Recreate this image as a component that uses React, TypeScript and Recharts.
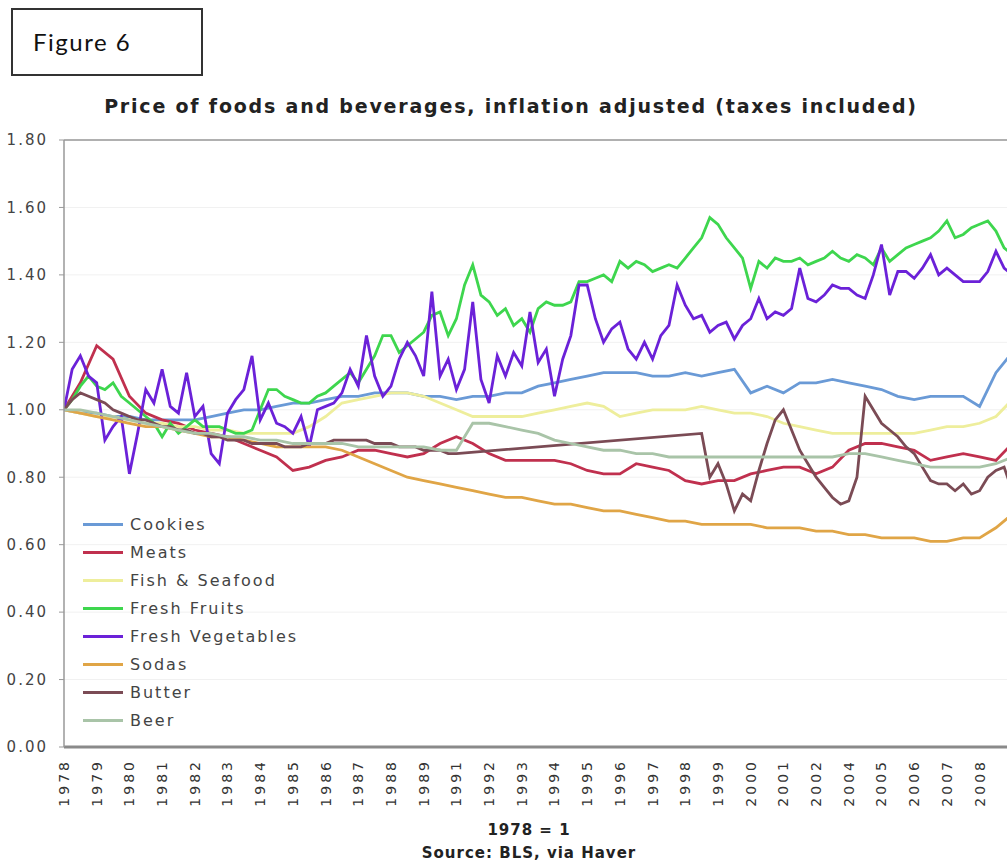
import { LineChart, Line, XAxis, YAxis, CartesianGrid, ReferenceLine } from 'recharts';

// year labels as printed under the axis (1990 and 2003 are not labelled)
const yearLabels = [
  '1978', '1979', '1980', '1981', '1982', '1983', '1984', '1985', '1986', '1987',
  '1988', '1989', '1991', '1992', '1993', '1994', '1995', '1996', '1997', '1998',
  '1999', '2000', '2001', '2002', '2004', '2005', '2006', '2007', '2008',
];
const yTicks = [0, 0.2, 0.4, 0.6, 0.8, 1, 1.2, 1.4, 1.6, 1.8];

// half-year readings (index unit = one labelled year)
const cookies = [
  1.0, 0.99, 0.99, 0.98, 0.98, 0.97, 0.97, 0.97, 0.97, 0.98,
  0.99, 1.0, 1.0, 1.01, 1.02, 1.02, 1.03, 1.04, 1.04, 1.05,
  1.05, 1.05, 1.04, 1.04, 1.03, 1.04, 1.04, 1.05, 1.05, 1.07,
  1.08, 1.09, 1.1, 1.11, 1.11, 1.11, 1.1, 1.1, 1.11, 1.1,
  1.11, 1.12, 1.05, 1.07, 1.05, 1.08, 1.08, 1.09, 1.08, 1.07,
  1.06, 1.04, 1.03, 1.04, 1.04, 1.04, 1.01, 1.11, 1.17,
];
const meats = [
  1.0, 1.08, 1.19, 1.15, 1.04, 0.99, 0.97, 0.96, 0.94, 0.93,
  0.92, 0.9, 0.88, 0.86, 0.82, 0.83, 0.85, 0.86, 0.88, 0.88,
  0.87, 0.86, 0.87, 0.9, 0.92, 0.9, 0.87, 0.85, 0.85, 0.85,
  0.85, 0.84, 0.82, 0.81, 0.81, 0.84, 0.83, 0.82, 0.79, 0.78,
  0.79, 0.79, 0.81, 0.82, 0.83, 0.83, 0.81, 0.83, 0.88, 0.9,
  0.9, 0.89, 0.88, 0.85, 0.86, 0.87, 0.86, 0.85, 0.9,
];
const fish = [
  1.0, 0.99, 0.98, 0.98, 0.97, 0.96, 0.96, 0.95, 0.95, 0.94,
  0.94, 0.93, 0.93, 0.93, 0.93, 0.95, 0.98, 1.02, 1.03, 1.04,
  1.05, 1.05, 1.04, 1.02, 1.0, 0.98, 0.98, 0.98, 0.98, 0.99,
  1.0, 1.01, 1.02, 1.01, 0.98, 0.99, 1.0, 1.0, 1.0, 1.01,
  1.0, 0.99, 0.99, 0.98, 0.96, 0.95, 0.94, 0.93, 0.93, 0.93,
  0.93, 0.93, 0.93, 0.94, 0.95, 0.95, 0.96, 0.98, 1.03,
];
const sodas = [
  1.0, 0.99, 0.98, 0.97, 0.96, 0.95, 0.95, 0.94, 0.93, 0.92,
  0.92, 0.91, 0.9, 0.89, 0.89, 0.89, 0.89, 0.88, 0.86, 0.84,
  0.82, 0.8, 0.79, 0.78, 0.77, 0.76, 0.75, 0.74, 0.74, 0.73,
  0.72, 0.72, 0.71, 0.7, 0.7, 0.69, 0.68, 0.67, 0.67, 0.66,
  0.66, 0.66, 0.66, 0.65, 0.65, 0.65, 0.64, 0.64, 0.63, 0.63,
  0.62, 0.62, 0.62, 0.61, 0.61, 0.62, 0.62, 0.65, 0.69,
];
const beer = [
  1.0, 1.0, 0.99, 0.98, 0.97, 0.96, 0.95, 0.94, 0.93, 0.93,
  0.92, 0.92, 0.91, 0.91, 0.9, 0.9, 0.9, 0.9, 0.89, 0.89,
  0.89, 0.89, 0.89, 0.88, 0.88, 0.96, 0.96, 0.95, 0.94, 0.93,
  0.91, 0.9, 0.89, 0.88, 0.88, 0.87, 0.87, 0.86, 0.86, 0.86,
  0.86, 0.86, 0.86, 0.86, 0.86, 0.86, 0.86, 0.86, 0.87, 0.87,
  0.86, 0.85, 0.84, 0.83, 0.83, 0.83, 0.83, 0.84, 0.86,
];

// quarterly readings for the jumpy series
const fruits = [
  1.0, 1.03, 1.07, 1.1, 1.07, 1.06, 1.08, 1.04, 1.02, 1.0,
  0.98, 0.96, 0.92, 0.96, 0.93, 0.95, 0.97, 0.95, 0.95, 0.95,
  0.94, 0.93, 0.93, 0.94, 1.0, 1.06, 1.06, 1.04, 1.03, 1.02,
  1.02, 1.04, 1.05, 1.07, 1.09, 1.11, 1.08, 1.12, 1.16, 1.22,
  1.22, 1.17, 1.19, 1.21, 1.23, 1.28, 1.29, 1.22, 1.27, 1.37,
  1.43, 1.34, 1.32, 1.28, 1.3, 1.25, 1.27, 1.23, 1.3, 1.32,
  1.31, 1.31, 1.32, 1.38, 1.38, 1.39, 1.4, 1.38, 1.44, 1.42,
  1.44, 1.43, 1.41, 1.42, 1.43, 1.42, 1.45, 1.48, 1.51, 1.57,
  1.55, 1.51, 1.48, 1.45, 1.36, 1.44, 1.42, 1.45, 1.44, 1.44,
  1.45, 1.43, 1.44, 1.45, 1.47, 1.45, 1.44, 1.46, 1.45, 1.43,
  1.48, 1.44, 1.46, 1.48, 1.49, 1.5, 1.51, 1.53, 1.56, 1.51,
  1.52, 1.54, 1.55, 1.56, 1.53, 1.48, 1.46,
];
const vegetables = [
  1.0, 1.12, 1.16, 1.1, 1.08, 0.91, 0.95, 0.98, 0.81, 0.93,
  1.06, 1.02, 1.12, 1.01, 0.99, 1.11, 0.98, 1.01, 0.87, 0.84,
  0.99, 1.03, 1.06, 1.16, 0.97, 1.02, 0.96, 0.95, 0.93, 0.98,
  0.89, 1.0, 1.01, 1.02, 1.05, 1.12, 1.07, 1.22, 1.1, 1.04,
  1.07, 1.15, 1.2, 1.16, 1.1, 1.35, 1.1, 1.15, 1.06, 1.12,
  1.32, 1.09, 1.02, 1.16, 1.1, 1.17, 1.13, 1.29, 1.14, 1.18,
  1.04, 1.15, 1.22, 1.37, 1.37, 1.27, 1.2, 1.24, 1.26, 1.18,
  1.15, 1.2, 1.15, 1.22, 1.25, 1.37, 1.31, 1.27, 1.28, 1.23,
  1.25, 1.26, 1.21, 1.25, 1.27, 1.33, 1.27, 1.29, 1.28, 1.3,
  1.42, 1.33, 1.32, 1.34, 1.37, 1.36, 1.36, 1.34, 1.33, 1.4,
  1.49, 1.34, 1.41, 1.41, 1.39, 1.42, 1.46, 1.4, 1.42, 1.4,
  1.38, 1.38, 1.38, 1.41, 1.47, 1.42, 1.4,
];
// butter has a gap 1991-1998 that the original joins with a straight line
const butter = [
  1.0, 1.03, 1.05, 1.04, 1.03, 1.02, 1.0, 0.99, 0.98, 0.97,
  0.97, 0.96, 0.95, 0.95, 0.94, 0.94, 0.93, 0.93, 0.92, 0.92,
  0.91, 0.91, 0.91, 0.9, 0.9, 0.9, 0.9, 0.89, 0.89, 0.89,
  0.9, 0.9, 0.9, 0.91, 0.91, 0.91, 0.91, 0.91, 0.9, 0.9,
  0.9, 0.89, 0.89, 0.89, 0.88, 0.88, 0.88, 0.87, 0.87, null,
  null, null, null, null, null, null, null, null, null, null,
  null, null, null, null, null, null, null, null, null, null,
  null, null, null, null, null, null, null, null, 0.93, 0.8,
  0.84, 0.78, 0.7, 0.75, 0.73, 0.82, 0.9, 0.97, 1.0, 0.94,
  0.88, 0.84, 0.8, 0.77, 0.74, 0.72, 0.73, 0.8, 1.04, 1.0,
  0.96, 0.94, 0.92, 0.89, 0.87, 0.83, 0.79, 0.78, 0.78, 0.76,
  0.78, 0.75, 0.76, 0.8, 0.82, 0.83, 0.76,
];

const SERIES = [
  { name: 'Cookies', color: '#6a9ad6', values: cookies, step: 0.5 },
  { name: 'Meats', color: '#c0304e', values: meats, step: 0.5 },
  { name: 'Fish & Seafood', color: '#eeee9c', values: fish, step: 0.5 },
  { name: 'Fresh Fruits', color: '#3ed64e', values: fruits, step: 0.25 },
  { name: 'Fresh Vegetables', color: '#6b21d8', values: vegetables, step: 0.25 },
  { name: 'Sodas', color: '#e0a546', values: sodas, step: 0.5 },
  { name: 'Butter', color: '#7b4b55', values: butter, step: 0.25 },
  { name: 'Beer', color: '#a9c4a8', values: beer, step: 0.5 },
];

const toPoints = (values, step) => values.map((v, j) => ({ x: j * step, v }));

const font = 'DejaVu Sans, Verdana, sans-serif';

const YearTick = ({ x, y, payload }) => (
  <g transform={`translate(${x},${y})`}>
    <text
      transform="rotate(-90)"
      x={0}
      y={0}
      dy="0.35em"
      textAnchor="end"
      fill="#333"
      fontSize={14}
      letterSpacing={3}
      fontFamily={font}
    >
      {yearLabels[payload.value]}
    </text>
  </g>
);

const App = () => {
  return (
    <div
      style={{
        position: 'fixed',
        left: 0,
        top: 0,
        width: 1007,
        height: 868,
        overflow: 'hidden',
        background: '#fff',
        fontFamily: font,
      }}
    >
      <div
        style={{
          position: 'absolute',
          left: 11,
          top: 8,
          width: 188,
          height: 64,
          border: '2px solid #333',
          fontFamily: 'Lato, sans-serif',
          fontSize: 24,
          letterSpacing: 1.5,
          color: '#111',
        }}
      >
        <span style={{ position: 'absolute', left: 20, top: 17 }}>Figure 6</span>
      </div>

      <div
        style={{
          position: 'absolute',
          left: 0,
          top: 95,
          width: 1022,
          textAlign: 'center',
          fontWeight: 'bold',
          fontSize: 19,
          letterSpacing: 1.8,
          color: '#222',
        }}
      >
        Price of foods and beverages, inflation adjusted (taxes included)
      </div>

      <LineChart
        width={1045}
        height={868}
        margin={{ top: 140, right: 0, bottom: 0, left: 0 }}
      >
        <CartesianGrid vertical={false} stroke="#f1f1f1" />
        <XAxis
          dataKey="x"
          type="number"
          domain={[0, 30]}
          ticks={yearLabels.map((_, i) => i)}
          interval={0}
          height={121}
          tickSize={0}
          tickMargin={12}
          tick={<YearTick />}
          axisLine={{ stroke: '#8a8a8a', strokeWidth: 3 }}
          allowDataOverflow
        />
        <YAxis
          type="number"
          domain={[0, 1.8]}
          ticks={yTicks}
          width={64}
          tickSize={5}
          tickMargin={11}
          tickFormatter={(v) => v.toFixed(2)}
          tick={{ fill: '#444', fontSize: 15, fontFamily: font, letterSpacing: 2 }}
          axisLine={{ stroke: '#999', strokeWidth: 1.5 }}
          tickLine={{ stroke: '#999' }}
        />
        <ReferenceLine y={1.8} stroke="#999" strokeWidth={1.5} />
        {SERIES.map((s) => (
          <Line
            key={s.name}
            data={toPoints(s.values, s.step)}
            dataKey="v"
            name={s.name}
            type="linear"
            stroke={s.color}
            strokeWidth={2.8}
            dot={false}
            connectNulls
            isAnimationActive={false}
          />
        ))}
      </LineChart>

      <div style={{ position: 'absolute', left: 83, top: 511 }}>
        {SERIES.map((s) => (
          <div key={s.name} style={{ display: 'flex', alignItems: 'center', height: 27.9 }}>
            <div style={{ width: 40, height: 3, background: s.color, marginRight: 7 }} />
            <span style={{ fontSize: 16, color: '#444', letterSpacing: 2 }}>{s.name}</span>
          </div>
        ))}
      </div>

      <div
        style={{
          position: 'absolute',
          left: 0,
          top: 819,
          width: 1058,
          textAlign: 'center',
          fontWeight: 'bold',
          fontSize: 15,
          letterSpacing: 1,
          color: '#222',
          lineHeight: '23px',
        }}
      >
        <div>1978 = 1</div>
        <div>Source: BLS, via Haver</div>
      </div>
    </div>
  );
};

export default App;
